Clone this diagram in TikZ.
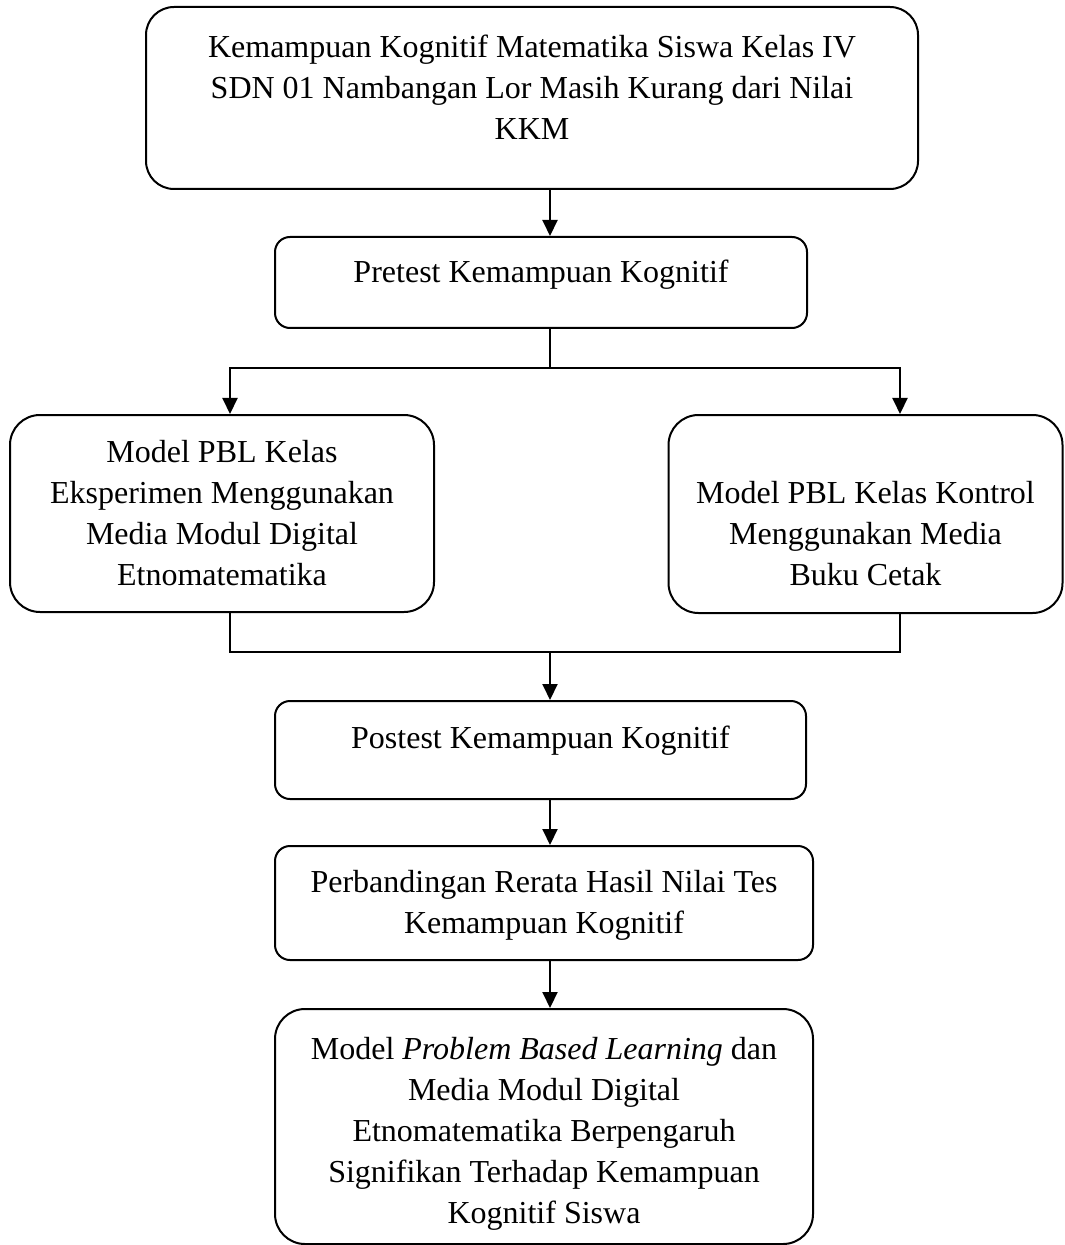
\documentclass[tikz,border=0pt]{standalone}
\usepackage{fontspec}
\setmainfont{Liberation Serif}
\usetikzlibrary{arrows.meta}

\begin{document}
\begin{tikzpicture}[x=0.5pt,y=-0.5pt]
\tikzstyle{every node}=[font=\fontsize{16}{20.5}\selectfont]
\tikzstyle{kotak}=[draw, line width=1pt, align=center, inner sep=0pt, rounded corners=7.5pt]
\tikzstyle{kotakbesar}=[kotak, rounded corners=15pt]
\tikzstyle{garis}=[line width=1pt]
\tikzstyle{panah}=[garis, -{Triangle[length=8pt,width=7.5pt]}]
\useasboundingbox (0,0) rectangle (1064,1245);
% boxes
\node[kotakbesar, rounded corners=14pt, minimum width=386pt, minimum height=91pt] (masalah) at (532,98)
  {Kemampuan Kognitif Matematika Siswa Kelas IV\\ SDN 01 Nambangan Lor Masih Kurang dari Nilai\\ KKM\rule[-11pt]{0pt}{11pt}};
\node[kotak, minimum width=266pt, minimum height=45.5pt] (pretest) at (541,282.5)
  {Pretest Kemampuan Kognitif\rule[-11pt]{0pt}{11pt}};
\node[kotakbesar, minimum width=212pt, minimum height=98.5pt] (eksperimen) at (222,513.5)
  {Model PBL Kelas\\ Eksperimen Menggunakan\\ Media Modul Digital\\ Etnomatematika};
\node[kotakbesar, minimum width=197pt, minimum height=99pt] (kontrol) at (865.5,514)
  {\rule{0pt}{31pt}Model PBL Kelas Kontrol\\ Menggunakan Media\\ Buku Cetak};
\node[kotak, minimum width=265.5pt, minimum height=49pt] (postest) at (540.5,750)
  {Postest Kemampuan Kognitif\rule[-13pt]{0pt}{13pt}};
\node[kotak, minimum width=269pt, minimum height=57pt] (perbandingan) at (544,903)
  {\rule{0pt}{13pt}Perbandingan Rerata Hasil Nilai Tes\\ Kemampuan Kognitif};
\node[kotakbesar, minimum width=269pt, minimum height=117.5pt] (hasil) at (544,1126.5)
  {\rule{0pt}{18pt}Model \textit{Problem Based Learning} dan\\ Media Modul Digital\\ Etnomatematika Berpengaruh\\ Signifikan Terhadap Kemampuan\\ Kognitif Siswa};
% connectors
\coordinate (tengah) at (550,0);
\coordinate (kirix) at (230,0);
\coordinate (kananx) at (900,0);
\coordinate (cabang) at (550,368);
\coordinate (gabung) at (550,652);
\draw[panah] (masalah.south -| tengah) -- (pretest.north -| tengah);
\draw[garis] (pretest.south -| tengah) -- (cabang);
\draw[panah] (cabang) -| (eksperimen.north -| kirix);
\draw[panah] (cabang) -| (kontrol.north -| kananx);
\draw[garis] (eksperimen.south -| kirix) |- (gabung);
\draw[garis] (kontrol.south -| kananx) |- (gabung);
\draw[panah] (gabung) -- (postest.north -| tengah);
\draw[panah] (postest.south -| tengah) -- (perbandingan.north -| tengah);
\draw[panah] (perbandingan.south -| tengah) -- (hasil.north -| tengah);
\end{tikzpicture}
\end{document}
